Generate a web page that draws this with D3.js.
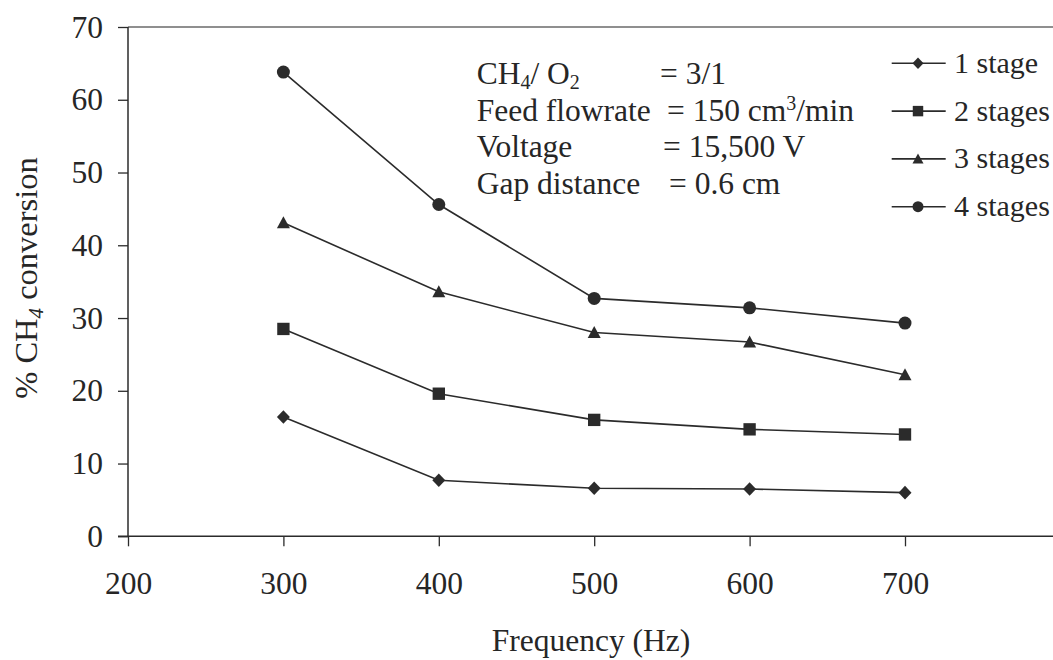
<!DOCTYPE html>
<html>
<head>
<meta charset="utf-8">
<script src="https://cdn.jsdelivr.net/npm/d3@7"></script>
<style>
  html, body { margin: 0; padding: 0; background: #fff; }
  svg { display: block; }
  text { font-family: "Liberation Serif", "Times New Roman", serif; fill: #262626; }
</style>
</head>
<body>
<svg id="chart" width="1053" height="660"></svg>
<script>
// ---- data ----
const frequencies = [300, 400, 500, 600, 700];
const seriesNames = ["1 stage", "2 stages", "3 stages", "4 stages"];
const stage1 = [16.4, 7.7, 6.6, 6.5, 6.0];
const stage2 = [28.5, 19.6, 16.0, 14.7, 14.0];
const stage3 = [43.1, 33.6, 28.0, 26.7, 22.2];
const stage4 = [63.8, 45.6, 32.7, 31.4, 29.3];
const seriesValues = [stage1, stage2, stage3, stage4];
const markerShapes = ["diamond", "square", "triangle", "circle"];
const xTicks = [200, 300, 400, 500, 600, 700];
const yTicks = [0, 10, 20, 30, 40, 50, 60, 70];

// ---- layout ----
const FS = 31.5;
const svg = d3.select("#chart");
const x = d3.scaleLinear().domain([200, 800]).range([128, 1060.4]);
const y = d3.scaleLinear().domain([0, 70]).range([536.3, 27]);
const ink = "#2b2b2b";

function shapePath(shape, s) {
  const h = s / 2;
  switch (shape) {
    case "diamond": return `M0,${-h*1.05}L${h},0L0,${h*1.05}L${-h},0Z`;
    case "square": return `M${-h*0.95},${-h*0.95}H${h*0.95}V${h*0.95}H${-h*0.95}Z`;
    case "triangle": return `M0,${-h}L${h},${h*0.85}L${-h},${h*0.85}Z`;
    case "circle": return d3.symbol(d3.symbolCircle, Math.PI * h * h)();
  }
}

// top border
svg.append("line")
  .attr("x1", x(200)).attr("x2", 1053)
  .attr("y1", y(70)).attr("y2", y(70))
  .attr("stroke", "#6a6a6a").attr("stroke-width", 1.5);

// y axis
const yAxis = svg.append("g")
  .attr("transform", `translate(${x(200)},0)`)
  .call(d3.axisLeft(y).tickValues(yTicks).tickSize(10).tickSizeOuter(0).tickPadding(15));
yAxis.select(".domain").remove();
yAxis.selectAll(".tick line").attr("stroke", ink).attr("stroke-width", 1.3);
yAxis.selectAll(".tick text")
  .attr("font-family", "Liberation Serif").attr("font-size", FS).attr("fill", "#262626");
svg.append("line")
  .attr("x1", x(200)).attr("x2", x(200))
  .attr("y1", y(70)).attr("y2", y(0))
  .attr("stroke", ink).attr("stroke-width", 1.5);

// x axis
const xAxis = svg.append("g")
  .attr("transform", `translate(0,${y(0)})`)
  .call(d3.axisBottom(x).tickValues(xTicks).tickSize(10).tickSizeOuter(0));
xAxis.select(".domain").remove();
xAxis.selectAll(".tick line").attr("stroke", ink).attr("stroke-width", 1.3);
xAxis.selectAll(".tick text")
  .attr("font-family", "Liberation Serif").attr("font-size", FS).attr("fill", "#262626")
  .attr("y", 58).attr("dy", 0);
svg.append("line")
  .attr("x1", x(200) - 10).attr("x2", 1053)
  .attr("y1", y(0)).attr("y2", y(0))
  .attr("stroke", ink).attr("stroke-width", 1.5);

// series
const line = d3.line().x((d, i) => x(frequencies[i])).y(d => y(d));
seriesValues.forEach((vals, si) => {
  svg.append("path").datum(vals)
    .attr("d", line).attr("fill", "none")
    .attr("stroke", ink).attr("stroke-width", 1.6);
  svg.selectAll(null).data(vals).enter().append("path")
    .attr("transform", (d, i) => `translate(${x(frequencies[i])},${y(d)})`)
    .attr("d", shapePath(markerShapes[si], 13))
    .attr("fill", ink);
});

// legend
const legend = svg.append("g");
seriesNames.forEach((name, i) => {
  const cy = 63.3 + i * 47.8;
  legend.append("line").attr("x1", 891.7).attr("x2", 945.7)
    .attr("y1", cy).attr("y2", cy).attr("stroke", ink).attr("stroke-width", 1.6);
  legend.append("path").attr("transform", `translate(918,${cy})`)
    .attr("d", shapePath(markerShapes[i], 11)).attr("fill", ink);
  legend.append("text").attr("x", 954).attr("y", cy + 9.5)
    .attr("font-size", 30).text(name);
});

// annotation
const ann = svg.append("g").attr("font-size", FS);
const t1 = ann.append("text").attr("x", 476.7).attr("y", 84);
t1.append("tspan").text("CH");
t1.append("tspan").attr("font-size", 20).attr("dy", 5).text("4");
t1.append("tspan").attr("dy", -5).text("/ O");
t1.append("tspan").attr("font-size", 20).attr("dy", 5).text("2");
ann.append("text").attr("x", 660).attr("y", 84).text("= 3/1");
ann.append("text").attr("x", 476.7).attr("y", 120.5).text("Feed flowrate");
const t2 = ann.append("text").attr("x", 667).attr("y", 120.5);
t2.append("tspan").text("= 150 cm");
t2.append("tspan").attr("font-size", 20).attr("dy", -11).text("3");
t2.append("tspan").attr("dy", 11).text("/min");
ann.append("text").attr("x", 476.7).attr("y", 157).text("Voltage");
ann.append("text").attr("x", 663).attr("y", 157).text("= 15,500 V");
ann.append("text").attr("x", 476.7).attr("y", 193.5).text("Gap distance");
ann.append("text").attr("x", 669).attr("y", 193.5).text("= 0.6 cm");

// axis titles
svg.append("text").attr("x", 591).attr("y", 651)
  .attr("text-anchor", "middle").attr("font-size", FS).text("Frequency (Hz)");
const yt = svg.append("text")
  .attr("transform", "translate(37,278) rotate(-90)")
  .attr("text-anchor", "middle").attr("font-size", 32.5);
yt.append("tspan").text("% CH");
yt.append("tspan").attr("font-size", 21).attr("dy", 6).attr("font-style", "italic").text("4");
yt.append("tspan").attr("dy", -6).text(" conversion");
</script>
</body>
</html>
